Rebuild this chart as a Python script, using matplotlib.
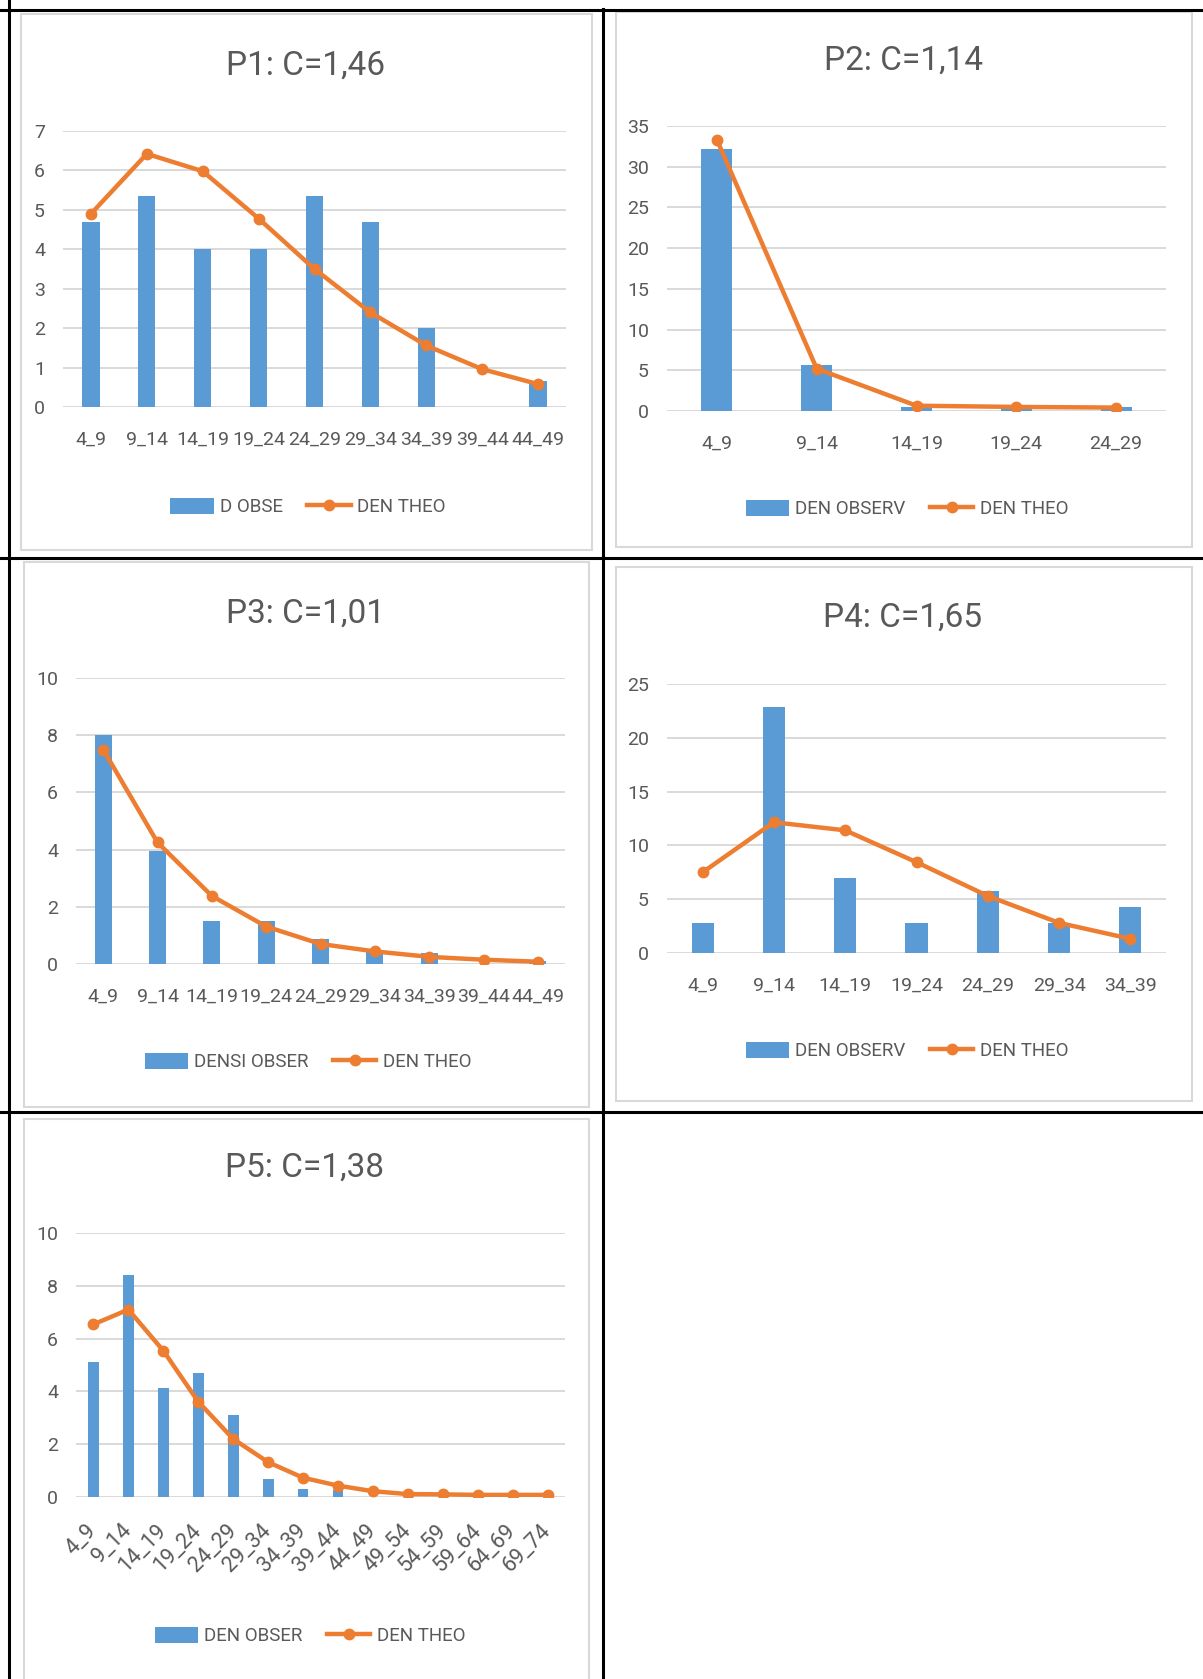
"""Observed vs. theoretical density by age class, five plots (P1-P5)."""

import matplotlib.pyplot as plt
from matplotlib.lines import Line2D
from matplotlib.patches import Patch, Rectangle

plt.switch_backend("Agg")
plt.rcParams["font.family"] = ["Roboto", "DejaVu Sans"]

# --- data -------------------------------------------------------------------
cats_p1 = ["4_9", "9_14", "14_19", "19_24", "24_29", "29_34", "34_39", "39_44", "44_49"]
obs_p1 = [4.7, 5.35, 4.0, 4.0, 5.35, 4.7, 2.0, 0.0, 0.67]
theo_p1 = [4.9, 6.42, 5.98, 4.78, 3.5, 2.4, 1.56, 0.96, 0.58]

cats_p2 = ["4_9", "9_14", "14_19", "19_24", "24_29"]
obs_p2 = [32.2, 5.6, 0.5, 0.35, 0.45]
theo_p2 = [33.3, 5.2, 0.65, 0.5, 0.42]

cats_p3 = ["4_9", "9_14", "14_19", "19_24", "24_29", "29_34", "34_39", "39_44", "44_49"]
obs_p3 = [8.0, 3.94, 1.5, 1.5, 0.88, 0.5, 0.4, 0.0, 0.12]
theo_p3 = [7.5, 4.25, 2.38, 1.31, 0.7, 0.44, 0.25, 0.15, 0.08]

cats_p4 = ["4_9", "9_14", "14_19", "19_24", "24_29", "29_34", "34_39"]
obs_p4 = [2.8, 22.85, 6.95, 2.8, 5.73, 2.8, 4.24]
theo_p4 = [7.5, 12.15, 11.4, 8.44, 5.3, 2.8, 1.32]

cats_p5 = ["4_9", "9_14", "14_19", "19_24", "24_29", "29_34", "34_39",
           "39_44", "44_49", "49_54", "54_59", "59_64", "64_69", "69_74"]
obs_p5 = [5.12, 8.42, 4.12, 4.71, 3.1, 0.7, 0.32, 0.25, 0.0, 0.0, 0.0, 0.0, 0.0, 0.1]
theo_p5 = [6.54, 7.1, 5.54, 3.61, 2.2, 1.32, 0.73, 0.43, 0.22, 0.11, 0.1, 0.08, 0.08, 0.08]

titles = ["P1: C=1,46", "P2: C=1,14", "P3: C=1,01", "P4: C=1,65", "P5: C=1,38"]
obs_labels = ["D OBSE", "DEN OBSERV", "DENSI OBSER", "DEN OBSERV", "DEN OBSER"]
theo_label = "DEN THEO"
y_max = [7, 35, 10, 25, 10]
y_step = [1, 5, 2, 5, 2]

# --- style / layout (pixels in a 1203 x 1679 canvas) ------------------------
W, H = 1203, 1679
BLUE = "#5B9BD5"
ORANGE = "#ED7D31"
GRID = "#D9D9D9"
TEXT = "#595959"

# frame box, plot box (left, top, right, bottom), title centre, legend centre
layout = [
    dict(frame=(21, 14, 592, 550), plot=(63, 131, 566, 407), title=(306, 66), legend=(308, 507)),
    dict(frame=(616, 12, 1192, 547), plot=(667, 126, 1166, 411), title=(904, 61), legend=(907, 509)),
    dict(frame=(24, 562, 589, 1107), plot=(76, 678, 565, 964), title=(305, 614), legend=(308, 1062)),
    dict(frame=(616, 567, 1192, 1101), plot=(667, 684, 1166, 953), title=(903, 618), legend=(907, 1051)),
    dict(frame=(24, 1119, 589, 1700), plot=(76, 1233, 565, 1497), title=(305, 1168), legend=(310, 1636)),
]


def fx(x):
    return x / W


def fy(y):
    return 1 - y / H


fig = plt.figure(figsize=(W / 100, H / 100), dpi=100)
fig.patch.set_facecolor("white")

series = [
    (cats_p1, obs_p1, theo_p1),
    (cats_p2, obs_p2, theo_p2),
    (cats_p3, obs_p3, theo_p3),
    (cats_p4, obs_p4, theo_p4),
    (cats_p5, obs_p5, theo_p5),
]

for i, ((cats, obs, theo), lay) in enumerate(zip(series, layout)):
    l, t, r, b = lay["frame"]
    fig.add_artist(Rectangle((fx(l), fy(b)), fx(r) - fx(l), fy(t) - fy(b),
                             transform=fig.transFigure, facecolor="white",
                             edgecolor=GRID, lw=1.5, zorder=0))

    l, t, r, b = lay["plot"]
    ax = fig.add_axes([fx(l), fy(b), fx(r) - fx(l), fy(t) - fy(b)])
    ax.set_facecolor("none")
    x = range(len(cats))
    ax.bar(x, obs, width=0.31, color=BLUE, zorder=2)
    ax.plot(x, theo, color=ORANGE, lw=3.2, marker="o", ms=7.5, zorder=3,
            solid_capstyle="round")

    ax.set_xlim(-0.5, len(cats) - 0.5)
    ax.set_ylim(0, y_max[i])
    ax.set_yticks(range(0, y_max[i] + 1, y_step[i]))
    ax.yaxis.grid(True, color=GRID, lw=1.4, zorder=0)
    ax.set_axisbelow(True)
    for s in ax.spines.values():
        s.set_visible(False)
    ax.tick_params(axis="both", length=0, labelsize=14, labelcolor=TEXT)
    ax.tick_params(axis="y", pad=13)
    ax.set_xticks(list(x))
    if i == 4:
        # long category list: slanted labels
        ax.set_xticklabels(cats, rotation=45, ha="right", va="center",
                           rotation_mode="anchor", fontsize=15.5)
        ax.tick_params(axis="x", pad=22)
    else:
        ax.set_xticklabels(cats)
        ax.tick_params(axis="x", pad=17)

    tx, ty = lay["title"]
    fig.text(fx(tx), fy(ty), titles[i], ha="center", va="center",
             fontsize=24, color=TEXT)

    handles = [
        Patch(facecolor=BLUE, edgecolor="none", label=obs_labels[i]),
        Line2D([], [], color=ORANGE, lw=3.2, marker="o", ms=7.5, label=theo_label),
    ]
    lx, ly = lay["legend"]
    ax.legend(handles=handles, loc="center", bbox_to_anchor=(fx(lx), fy(ly)),
              bbox_transform=fig.transFigure, ncol=2, frameon=False,
              fontsize=13.5, labelcolor=TEXT, handlelength=2.3, handleheight=1.0,
              handletextpad=0.35, columnspacing=1.3, borderpad=0)

# black table rules
rules = [
    ((9, 9), (0, H)),      # left
    ((603, 603), (9, H)),  # middle
    ((0, W), (10, 10)),    # top
    ((0, W), (558, 558)),
    ((0, W), (1112, 1112)),
]
for xs, ys in rules:
    fig.add_artist(Line2D([fx(v) for v in xs], [fy(v) for v in ys],
                          transform=fig.transFigure, color="black", lw=2.2))

fig.savefig("out.png", dpi=100)
